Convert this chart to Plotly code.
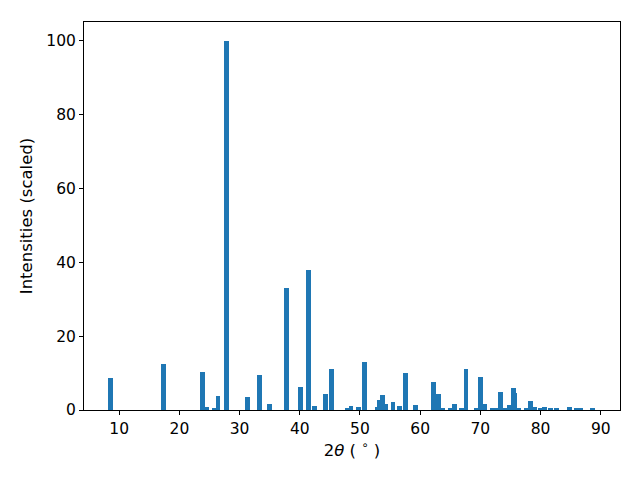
import plotly.graph_objects as go

two_theta = [8.6, 17.3, 23.8, 24.45, 25.8, 26.4, 27.8, 31.3, 33.3, 35.0, 37.8, 40.1, 41.5, 42.5,
             44.3, 45.3, 47.9, 48.5, 49.8, 50.7, 52.9, 53.3, 53.8, 54.3, 55.5, 56.5, 57.5, 59.2,
             62.2, 63.1, 63.7, 65.1, 65.7, 66.8, 67.6, 69.3, 70.0, 70.7, 72.0, 72.6, 73.3, 74.0,
             74.8, 75.7, 75.5, 76.4, 77.7, 78.3, 79.0, 80.0, 80.7, 81.7, 82.7, 84.8, 85.9, 86.7, 88.6]
intensity = [8.7, 12.5, 10.3, 0.8, 0.4, 3.8, 100.0, 3.5, 9.5, 1.6, 33.0, 6.2, 38.0, 1.1,
             4.3, 11.0, 0.5, 1.1, 0.8, 13.0, 0.8, 2.7, 4.1, 1.6, 2.1, 1.1, 10.0, 1.3,
             7.6, 4.3, 0.3, 0.3, 1.6, 0.5, 11.1, 0.3, 8.9, 1.6, 0.5, 0.5, 4.9, 0.3,
             1.3, 4.6, 6.0, 0.3, 0.3, 2.4, 0.8, 0.3, 0.8, 0.3, 0.3, 0.8, 0.5, 0.5, 0.5]

x_ticks = [10, 20, 30, 40, 50, 60, 70, 80, 90]
y_ticks = [0, 20, 40, 60, 80, 100]

fig = go.Figure(go.Bar(x=two_theta, y=intensity, width=0.8,
                       marker=dict(color="#1f77b4", line=dict(width=0))))

tick_font = dict(family="DejaVu Sans", size=15.5, color="black")
title_font = dict(family="DejaVu Sans", size=16.5, color="black")
axis_common = dict(showline=True, linecolor="black", linewidth=1, mirror=True,
                   ticks="outside", ticklen=4, tickcolor="black", tickwidth=1,
                   showgrid=False, zeroline=False, tickfont=tick_font)

fig.update_layout(
    width=640, height=480,
    margin=dict(l=76, r=28, t=14, b=78),
    plot_bgcolor="white", paper_bgcolor="white",
    showlegend=False, bargap=0,
    font=tick_font,
    xaxis=dict(range=[4.15, 93.2], tickvals=x_ticks,
               title=dict(text="2<i>θ</i> ( <sup>∘</sup> )", font=title_font, standoff=5), **axis_common),
    yaxis=dict(range=[0, 105.1], tickvals=y_ticks,
               title=dict(text="Intensities (scaled)", font=title_font, standoff=9), **axis_common),
)

fig.write_html("out.html")
